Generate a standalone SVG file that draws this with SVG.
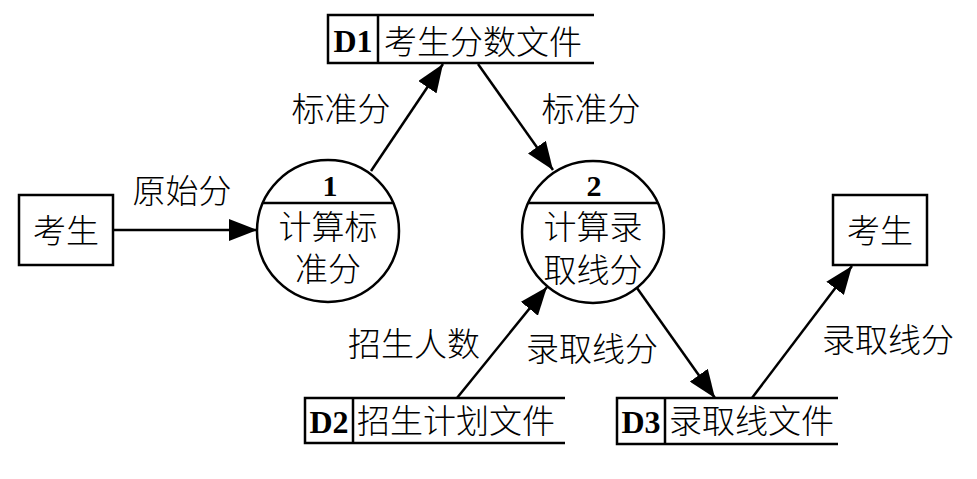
<svg xmlns="http://www.w3.org/2000/svg" width="977" height="479" viewBox="0 0 977 479">
<style>
.s{fill:none;stroke:#000;stroke-width:2.5}
.t{font-family:"Liberation Serif","Noto Sans CJK SC",serif;font-size:33px;font-weight:300;fill:#000}
.m{text-anchor:middle}
.b{font-family:"Liberation Serif",serif;font-weight:bold;fill:#000;text-anchor:middle}
</style>
<defs>
<marker id="ah" markerUnits="userSpaceOnUse" markerWidth="28" markerHeight="22" refX="28" refY="11" orient="auto">
<path d="M0,0 L28,11 L0,22 z" fill="#000"/>
</marker>
</defs>
<rect width="977" height="479" fill="#fff"/>
<g id="connectors" class="s" marker-end="url(#ah)">
<path d="M113,230 L257,230"/>
<path d="M371,171 L443,64"/>
<path d="M478,64 L553,170"/>
<path d="M457,398 L547,287"/>
<path d="M637,288 L715,398"/>
<path d="M752,398 L852,266"/>
</g>
<g id="labels" class="t m">
<text x="182" y="202.5">原始分</text>
<text x="341" y="120.5">标准分</text>
<text x="591" y="120.5">标准分</text>
<text x="414" y="355.5">招生人数</text>
<text x="592" y="360.5">录取线分</text>
<text x="888" y="351.5">录取线分</text>
</g>
<g id="ext1">
<rect class="s" x="19" y="195" width="94" height="70"/>
<text class="t m" x="66" y="242.5">考生</text>
</g>
<g id="ext2">
<rect class="s" x="833" y="195" width="94" height="70"/>
<text class="t m" x="880" y="242.5">考生</text>
</g>
<g id="p1">
<circle class="s" cx="328" cy="231" r="71"/>
<path class="s" d="M263,203 H393"/>
<text class="b" x="330" y="196" font-size="30">1</text>
<text class="t m" x="328" y="238.5">计算标</text>
<text class="t m" x="328" y="280.5">准分</text>
</g>
<g id="p2">
<circle class="s" cx="593" cy="232" r="71"/>
<path class="s" d="M528,203 H658"/>
<text class="b" x="594" y="196" font-size="30">2</text>
<text class="t m" x="593" y="238.5">计算录</text>
<text class="t m" x="593" y="281.5">取线分</text>
</g>
<g id="d1">
<path class="s" d="M594,15 H328 V63 H594 M378,15 V63"/>
<text class="b" x="353" y="52" font-size="32">D1</text>
<text class="t" x="384" y="53.5">考生分数文件</text>
</g>
<g id="d2">
<path class="s" d="M565,398 H305 V443 H565 M353,398 V443"/>
<text class="b" x="329" y="433" font-size="32">D2</text>
<text class="t" x="357" y="432.5">招生计划文件</text>
</g>
<g id="d3">
<path class="s" d="M838,398 H617 V444 H838 M665,398 V444"/>
<text class="b" x="641" y="433" font-size="32">D3</text>
<text class="t" x="669" y="432.5">录取线文件</text>
</g>
</svg>
